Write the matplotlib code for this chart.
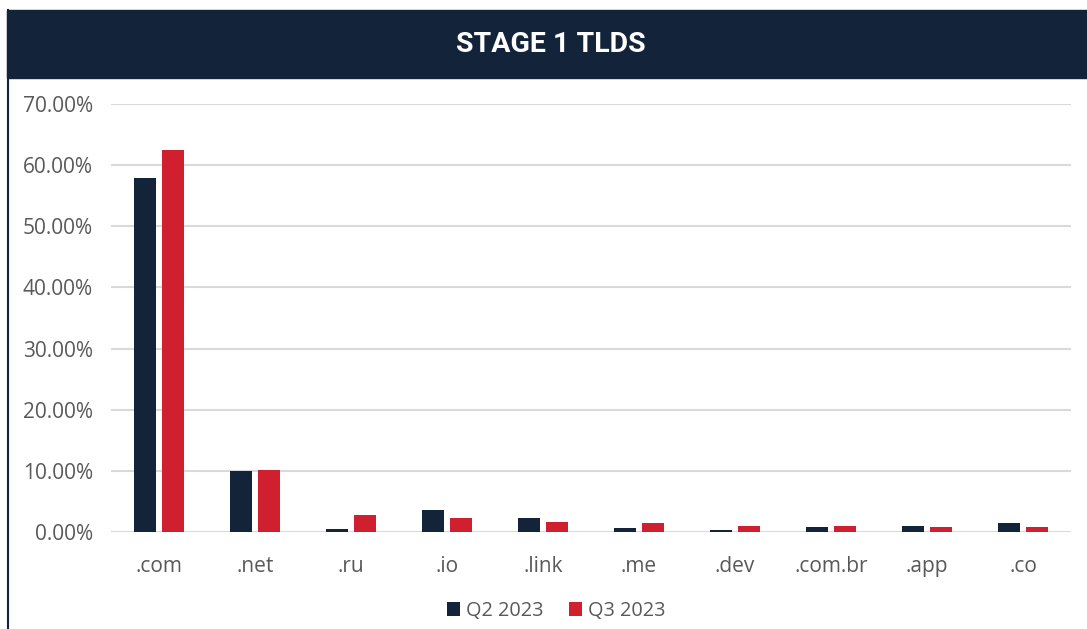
import numpy as np
import matplotlib
matplotlib.use("Agg")
import matplotlib.pyplot as plt
from matplotlib.patches import Rectangle
from matplotlib.lines import Line2D

tlds = ['.com', '.net', '.ru', '.io', '.link', '.me', '.dev', '.com.br', '.app', '.co']
q2_2023 = [57.9, 9.9, 0.5, 3.6, 2.3, 0.7, 0.3, 0.8, 1.0, 1.5]
q3_2023 = [62.5, 10.1, 2.7, 2.3, 1.7, 1.5, 1.0, 1.0, 0.8, 0.8]
yticks = [0, 10, 20, 30, 40, 50, 60, 70]

navy = '#12233a'
red = '#d01f2e'
grey = '#595959'

W, H = 1087, 629
fig = plt.figure(figsize=(W / 100, H / 100), dpi=100)
plt.rcParams['font.family'] = ['Open Sans', 'DejaVu Sans']

# header band and left border
fig.patches.append(Rectangle((7 / W, 1 - 78 / H), 1080 / W, 68 / H,
                             transform=fig.transFigure, color=navy, zorder=0))
fig.lines.append(Line2D([7.5 / W, 7.5 / W], [0, 1 - 10 / H],
                        transform=fig.transFigure, color=navy, lw=1.5))
fig.text(551 / W, 1 - 45 / H, 'STAGE 1 TLDS', color='white', fontsize=20.5,
         fontweight='bold', family=['Roboto', 'DejaVu Sans'],
         ha='center', va='center')

ax = fig.add_axes([111 / W, 1 - 532 / H, (1071 - 111) / W, (532 - 104) / H])
x = np.arange(len(tlds))
w = 0.23
ax.bar(x - 0.15, q2_2023, w, color=navy, label='Q2 2023', zorder=3)
ax.bar(x + 0.15, q3_2023, w, color=red, label='Q3 2023', zorder=3)

ax.set_xlim(-0.5, len(tlds) - 0.5)
ax.set_ylim(0, 70)
ax.set_yticks(yticks)
ax.set_yticklabels(['%.2f%%' % v for v in yticks])
ax.set_xticks(x)
ax.set_xticklabels(tlds)
ax.grid(axis='y', color='#d9d9d9', lw=1.5, zorder=0)
for s in ax.spines.values():
    s.set_visible(False)
ax.tick_params(axis='both', length=0, labelsize=15, colors=grey)
ax.tick_params(axis='y', pad=13)
ax.tick_params(axis='x', pad=17)

ax.legend(loc='center', bbox_to_anchor=(556 / W, 1 - 611 / H),
          bbox_transform=fig.transFigure, ncol=2, frameon=False,
          fontsize=14.3, labelcolor=grey, handlelength=0.65, handleheight=0.65,
          handletextpad=0.3, columnspacing=1.3)

fig.savefig('out.png', dpi=100)
